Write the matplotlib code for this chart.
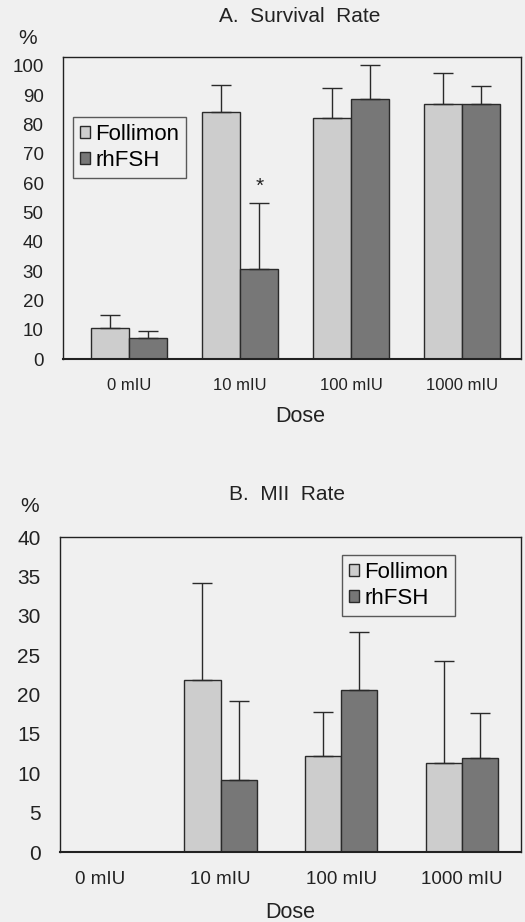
import matplotlib
matplotlib.use("Agg")
import matplotlib.pyplot as plt
import numpy as np

plt.rcParams['font.family'] = ['Liberation Sans', 'DejaVu Sans']

doses = ["0 mIU", "10 mIU", "100 mIU", "1000 mIU"]
series = ["Follimon", "rhFSH"]

# A. Survival Rate (%)
surv_follimon = [10.5, 84.4, 82.3, 87.1]
surv_follimon_err = [4.6, 9.0, 10.1, 10.3]
surv_rhfsh = [7.0, 30.6, 88.6, 87.1]
surv_rhfsh_err = [2.4, 22.7, 11.7, 5.9]

# B. MII Rate (%)
mii_follimon = [0.0, 21.8, 12.2, 11.3]
mii_follimon_err = [0.0, 12.3, 5.6, 13.0]
mii_rhfsh = [0.0, 9.2, 20.6, 12.0]
mii_rhfsh_err = [0.0, 10.0, 7.3, 5.6]

W, H = 525, 922
BG = "#f0f0f0"
C_F = "#cdcdcd"
C_R = "#777777"
EDGE = "#2a2a2a"
TXT = "#222222"

fig = plt.figure(figsize=(W / 100, H / 100), dpi=100, facecolor=BG)

def px_axes(l, t, r, b):
    return fig.add_axes([l / W, 1 - b / H, (r - l) / W, (b - t) / H])

def draw(ax, f, fe, r, re, bw, xlim, ylim, yticks, ysize, xsize, xpad, ypad):
    x = np.arange(len(doses))
    ax.set_facecolor(BG)
    for vals, errs, off, col, lab in [(f, fe, -bw / 2, C_F, series[0]),
                                      (r, re, bw / 2, C_R, series[1])]:
        vals = np.array(vals)
        errs = np.array(errs)
        mask = vals > 0
        ax.bar(x[mask] + off, vals[mask], width=bw, color=col, edgecolor=EDGE,
               linewidth=1.0, label=lab)
        ax.errorbar(x[mask] + off, vals[mask],
                    yerr=[np.zeros(mask.sum()), errs[mask]],
                    fmt="none", ecolor=EDGE, elinewidth=1.0, capsize=7, capthick=1.0)
    ax.set_xlim(*xlim)
    ax.set_ylim(*ylim)
    ax.set_yticks(yticks)
    ax.set_xticks(x)
    ax.set_xticklabels(doses, fontsize=xsize)
    ax.tick_params(axis="both", length=0, colors=TXT)
    ax.tick_params(axis="y", labelsize=ysize, pad=ypad)
    ax.tick_params(axis="x", pad=xpad)
    for s in ax.spines.values():
        s.set_color(TXT)
        s.set_linewidth(1.0)
    ax.spines["bottom"].set_linewidth(1.5)
    return x

def legend(ax, anchor):
    leg = ax.legend(loc="upper left", bbox_to_anchor=anchor,
                    fontsize=16, frameon=True, fancybox=False, handlelength=0.45,
                    handleheight=0.45, handletextpad=0.25, borderpad=0.3,
                    labelspacing=0.25, borderaxespad=0)
    leg.get_frame().set_edgecolor("#333333")
    leg.get_frame().set_facecolor(BG)
    leg.get_frame().set_linewidth(1.0)
    return leg

# Top chart
ax1 = px_axes(63, 57, 521, 359)
x1 = draw(ax1, surv_follimon, surv_follimon_err, surv_rhfsh, surv_rhfsh_err,
          0.345, (-0.595, 3.53), (0, 103), range(0, 101, 10), 13.5, 12, 14, 14)
ax1.text(x1[1] + 0.345 / 2, surv_rhfsh[1] + surv_rhfsh_err[1] + 2.5, "*",
         ha="center", va="bottom", fontsize=15, color=TXT)
legend(ax1, ((73 - 63) / 458, 1 - (117 - 57) / 302))

fig.text(300 / W, 1 - 16 / H, "A.  Survival  Rate", ha="center", va="center",
         fontsize=15, color=TXT)
fig.text(28 / W, 1 - 38 / H, "%", ha="center", va="center", fontsize=15, color=TXT)
fig.text(300 / W, 1 - 417 / H, "Dose", ha="center", va="center", fontsize=15.5, color=TXT)

# Bottom chart
ax2 = px_axes(60, 537, 521, 852)
draw(ax2, mii_follimon, mii_follimon_err, mii_rhfsh, mii_rhfsh_err,
     0.30, (-0.33, 3.49), (0, 40), range(0, 41, 5), 15, 13.5, 14, 14)
legend(ax2, ((342 - 60) / 461, 1 - (555 - 537) / 315))

fig.text(287 / W, 1 - 494 / H, "B.  MII  Rate", ha="center", va="center",
         fontsize=15, color=TXT)
fig.text(30 / W, 1 - 506 / H, "%", ha="center", va="center", fontsize=15, color=TXT)
fig.text(290 / W, 1 - 912 / H, "Dose", ha="center", va="center", fontsize=15.5, color=TXT)

fig.savefig("out.png", dpi=100, facecolor=BG)
